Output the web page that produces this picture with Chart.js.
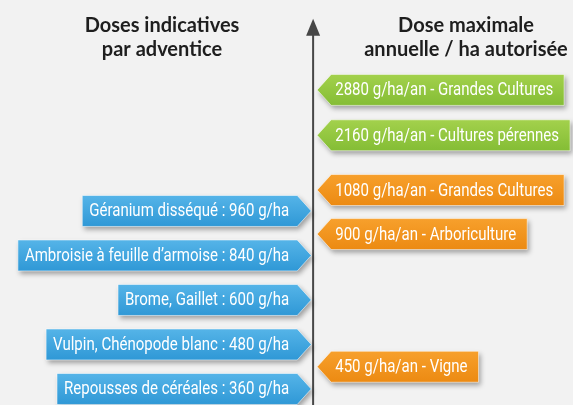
<!DOCTYPE html>
<html>
<head>
<meta charset="utf-8">
<script src="https://cdn.jsdelivr.net/npm/chart.js@4"></script>
<style>
  html, body { margin: 0; padding: 0; background: #f2f2f2; }
  #wrap { width: 573px; height: 405px; }
</style>
</head>
<body>
<div id="wrap"><canvas id="myChart" width="573" height="405"></canvas></div>
<script>
// left side : indicative doses per weed
const leftLabels = [
    'Géranium disséqué : 960 g/ha',
    'Ambroisie à feuille d\u2019armoise : 840 g/ha',
    'Brome, Gaillet : 600 g/ha',
    'Vulpin, Chénopode blanc : 480 g/ha',
    'Repousses de céréales : 360 g/ha'
];
const leftDoses = [960, 840, 600, 480, 360];
// place on the (schematic, not to scale) dose axis
const leftLevels = [4, 3, 2, 1, 0];

// right side : max yearly dose allowed
const rightLabels = [
    '2880 g/ha/an - Grandes Cultures',
    '2160 g/ha/an - Cultures pérennes',
    '1080 g/ha/an - Grandes Cultures',
    '900 g/ha/an - Arboriculture',
    '450 g/ha/an - Vigne'
];
const rightDoses = [2880, 2160, 1080, 900, 450];
const rightLevels = [6.72, 5.7, 4.47, 3.48, 0.5];
const rightGroups = ['green', 'green', 'orange', 'orange', 'orange'];

const axisTop = 8.32;

const palette = {
    blue: ['#55b4e8', '#2f98d6'],
    green: ['#a3d14c', '#84bd35'],
    orange: ['#f7a02c', '#ec8a12']
};

const ctx = document.getElementById('myChart').getContext('2d');

function tagPath(c, side, tipX, y, w, h, tip) {
    c.beginPath();
    if (side === 'left') {
        c.moveTo(tipX, y);
        c.lineTo(tipX - tip, y - h / 2);
        c.lineTo(tipX - tip - w, y - h / 2);
        c.lineTo(tipX - tip - w, y + h / 2);
        c.lineTo(tipX - tip, y + h / 2);
    } else {
        c.moveTo(tipX, y);
        c.lineTo(tipX + tip, y - h / 2);
        c.lineTo(tipX + tip + w, y - h / 2);
        c.lineTo(tipX + tip + w, y + h / 2);
        c.lineTo(tipX + tip, y + h / 2);
    }
    c.closePath();
}

// draws the axis with its arrow, the headers, and the arrow shaped tags
const tagsPlugin = {
    id: 'tags',
    beforeDatasetsDraw(chart) {
        const {ctx: c, scales: {x, y}, chartArea} = chart;
        const ax = x.getPixelForValue(0);
        const top = y.getPixelForValue(axisTop);
        c.save();
        c.strokeStyle = '#474747';
        c.lineWidth = 2;
        c.beginPath();
        c.moveTo(ax, chartArea.bottom);
        c.lineTo(ax, top + 14);
        c.stroke();
        c.fillStyle = '#474747';
        c.beginPath();
        c.moveTo(ax, top);
        c.lineTo(ax - 7, top + 17);
        c.lineTo(ax + 7, top + 17);
        c.closePath();
        c.fill();

        c.fillStyle = '#1e1e1e';
        c.font = 'bold 20px Lato';
        c.textAlign = 'center';
        c.textBaseline = 'middle';
        c.fillText('Doses indicatives', 162, 26);
        c.fillText('par adventice', 162, 50);
        c.fillText('Dose maximale', 466, 26);
        c.fillText('annuelle / ha autorisée', 466, 50);
        c.restore();
    },
    afterDatasetsDraw(chart) {
        const c = chart.ctx;
        const h = 31, tip = 14, padL = 7, padR = 8, squeeze = 0.835;
        c.save();
        c.font = '18px Roboto';
        chart.data.datasets.forEach((ds, di) => {
            const meta = chart.getDatasetMeta(di);
            meta.data.forEach((pt, i) => {
                const label = ds.tagLabels[i];
                const tw = c.measureText(label).width * squeeze;
                const w = tw + padL + padR;
                const cols = palette[ds.tagColors[i]];
                const g = c.createLinearGradient(0, pt.y - h / 2, 0, pt.y + h / 2);
                g.addColorStop(0, cols[0]);
                g.addColorStop(1, cols[1]);
                c.save();
                c.shadowColor = 'rgba(0,0,0,0.35)';
                c.shadowBlur = 5;
                c.shadowOffsetX = 2;
                c.shadowOffsetY = 3;
                tagPath(c, ds.side, pt.x, pt.y, w, h, tip);
                c.fillStyle = g;
                c.fill();
                c.restore();
                c.strokeStyle = 'rgba(255,255,255,0.55)';
                c.lineWidth = 1;
                tagPath(c, ds.side, pt.x, pt.y, w, h, tip);
                c.stroke();
                const tx = ds.side === 'left' ? pt.x - tip - w + padL : pt.x + tip + 4;
                c.save();
                c.translate(tx, pt.y + 1);
                c.scale(squeeze, 1);
                c.fillStyle = '#ffffff';
                c.textBaseline = 'middle';
                c.textAlign = 'left';
                c.fillText(label, 0, 0);
                c.restore();
            });
        });
        c.restore();
    }
};

const data = {
    datasets: [{
        label: 'Doses indicatives par adventice',
        side: 'left',
        tagLabels: leftLabels,
        tagColors: leftLabels.map(() => 'blue'),
        data: leftLevels.map((lv, i) => ({x: -0.006, y: lv, dose: leftDoses[i]})),
        pointRadius: 0
    }, {
        label: 'Dose maximale annuelle / ha autorisée',
        side: 'right',
        tagLabels: rightLabels,
        tagColors: rightGroups,
        data: rightLevels.map((lv, i) => ({x: 0.013, y: lv, dose: rightDoses[i]})),
        pointRadius: 0
    }]
};

const chart = new Chart(ctx, {
    type: 'scatter',
    data: data,
    options: {
        responsive: false,
        animation: false,
        layout: {padding: 0},
        plugins: {
            legend: {display: false},
            tooltip: {enabled: false}
        },
        scales: {
            x: {display: false, min: -1, max: 0.83},
            y: {display: false, min: -0.36, max: 8.74}
        }
    },
    plugins: [tagsPlugin]
});
</script>
</body>
</html>
